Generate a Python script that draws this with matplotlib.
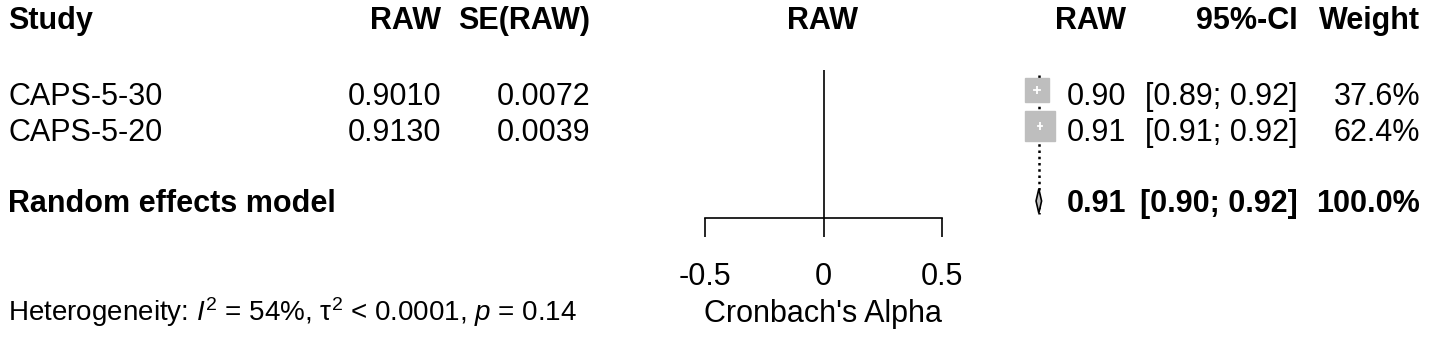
import numpy as np
import matplotlib
matplotlib.use("Agg")
import matplotlib.pyplot as plt

plt.rcParams['font.family'] = ['Liberation Sans', 'DejaVu Sans']
plt.rcParams['mathtext.fontset'] = 'custom'
plt.rcParams['mathtext.rm'] = 'Liberation Sans'
plt.rcParams['mathtext.it'] = 'Liberation Sans:italic'

# data
studies = ['CAPS-5-30', 'CAPS-5-20']
raw = [0.9010, 0.9130]
se_raw = [0.0072, 0.0039]
ci_lo = [0.89, 0.91]
ci_hi = [0.92, 0.92]
weights = [37.6, 62.4]
pooled = 0.9085
pooled_lo = 0.8968
pooled_hi = 0.9202
pooled_txt = ['0.91', '[0.90; 0.92]', '100.0%']
het_text = r'Heterogeneity: $I^2$ = 54%, τ$^2$ < 0.0001, $p$ = 0.14'
xticks = [-0.5, 0, 0.5]

W, H = 1429, 337
fs = 22

fig = plt.figure(figsize=(W / 100, H / 100), dpi=100)

# text layer in pixel coordinates
ax = fig.add_axes([0, 0, 1, 1])
ax.set_xlim(0, W)
ax.set_ylim(H, 0)
ax.axis('off')

# forest panel: -0.5 at 705 px, 0.5 at 942 px, from y=70 to y=218 px
fx = fig.add_axes([705 / W, (H - 218) / H, 237 / W, 148 / H])
fx.set_xlim(-0.5, 0.5)
fx.set_ylim(218, 70)
fx.patch.set_alpha(0)
for s in ['top', 'left', 'right']:
    fx.spines[s].set_visible(False)
fx.spines['bottom'].set_linewidth(1.2)
fx.set_yticks([])
fx.set_xticks(xticks)
fx.set_xticklabels(['-0.5', '0', '0.5'], fontsize=fs)
fx.tick_params(axis='x', length=13.5, width=1.2, pad=18)
fx.axvline(0, color='black', lw=1.2)

# rows (baselines, px)
hdr_y = 29
row_y = [105, 141]
re_y = 212
bold = dict(fontsize=fs, fontweight='bold', va='baseline')
norm = dict(fontsize=fs, va='baseline')

ax.text(8, hdr_y, 'Study', ha='left', **bold)
ax.text(441, hdr_y, 'RAW', ha='right', **bold)
ax.text(590, hdr_y, 'SE(RAW)', ha='right', **bold)
ax.text(823, hdr_y, 'RAW', ha='center', **bold)
ax.text(1126, hdr_y, 'RAW', ha='right', **bold)
ax.text(1298, hdr_y, '95%-CI', ha='right', **bold)
ax.text(1420, hdr_y, 'Weight', ha='right', **bold)

for i, name in enumerate(studies):
    y = row_y[i]
    ax.text(8, y, name, ha='left', **norm)
    ax.text(441, y, f'{raw[i]:.4f}', ha='right', **norm)
    ax.text(590, y, f'{se_raw[i]:.4f}', ha='right', **norm)
    ax.text(1126, y, f'{raw[i]:.2f}', ha='right', **norm)
    ax.text(1298, y, f'[{ci_lo[i]:.2f}; {ci_hi[i]:.2f}]', ha='right', **norm)
    ax.text(1420, y, f'{weights[i]:.1f}%', ha='right', **norm)

ax.text(8, re_y, 'Random effects model', ha='left', **bold)
ax.text(1126, re_y, pooled_txt[0], ha='right', **bold)
ax.text(1298, re_y, pooled_txt[1], ha='right', **bold)
ax.text(1420, re_y, pooled_txt[2], ha='right', **bold)

ax.text(8, 321, het_text, ha='left', va='baseline', fontsize=20)
ax.text(823, 322, "Cronbach's Alpha", ha='center', va='baseline', fontsize=fs)

# markers (outside the axis range, like the original)
mark_y = [y - 15 for y in row_y]
fx.vlines(pooled, 75, 214, colors='black', linestyles=(0, (1, 1.5)), lw=1.8, clip_on=False)
for i in range(len(studies)):
    side = 21.6 * np.sqrt(weights[i] / max(weights))
    fx.plot(raw[i], mark_y[i], marker='s', ms=side, color='#BEBEBE',
            mec='#BEBEBE', clip_on=False, zorder=3)
    fx.plot([raw[i] - 1.96 * se_raw[i], raw[i] + 1.96 * se_raw[i]],
            [mark_y[i], mark_y[i]], color='white', lw=1.3, clip_on=False, zorder=4)
    fx.plot(raw[i], mark_y[i], marker='|', ms=6, color='white', mew=1.3,
            clip_on=False, zorder=4)

dy = re_y - 11
fx.fill([pooled_lo, pooled, pooled_hi, pooled], [dy, dy - 12, dy, dy + 12],
        facecolor='#BEBEBE', edgecolor='black', lw=1.2, clip_on=False, zorder=4)

fig.savefig('out.png', dpi=100)
